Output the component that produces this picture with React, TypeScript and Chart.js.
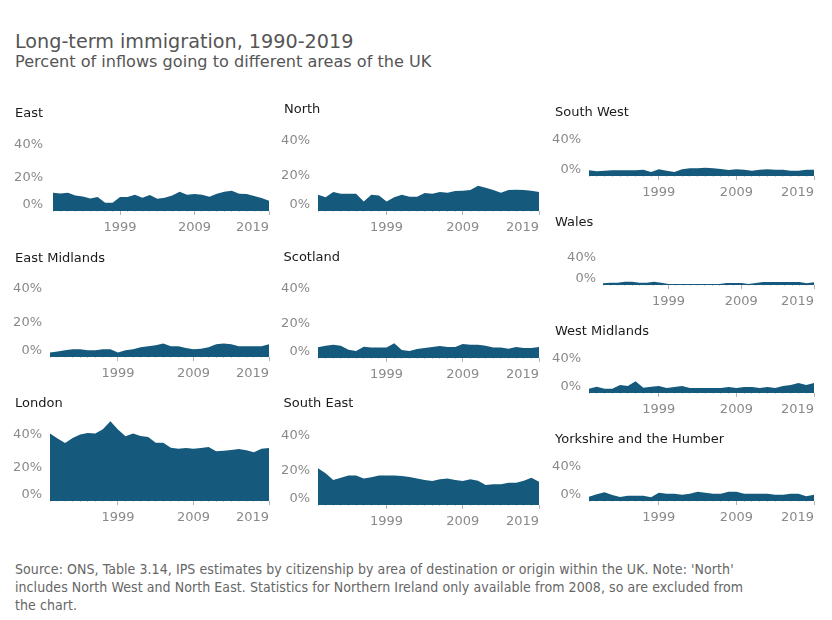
import React, { useEffect, useRef } from 'react';
import { Chart, registerables } from 'chart.js';

Chart.register(...registerables);

// ---------- data ----------
const years = ['1990', '1991', '1992', '1993', '1994', '1995', '1996', '1997', '1998', '1999', '2000', '2001', '2002', '2003', '2004', '2005', '2006', '2007', '2008', '2009', '2010', '2011', '2012', '2013', '2014', '2015', '2016', '2017', '2018', '2019'];
const labelledYears = ['1999', '2009', '2019'];
const ticksTall = [0, 20, 40];
const ticksShort = [0, 40];

const east = [11.0, 10.6, 11.0, 9.4, 8.8, 7.6, 8.4, 5.0, 5.0, 8.4, 8.4, 9.8, 8.0, 9.6, 7.4, 8.0, 9.4, 11.6, 9.8, 10.2, 9.8, 8.6, 10.4, 11.6, 12.2, 10.4, 10.2, 9.0, 7.8, 6.2];
const north = [9.3, 7.8, 10.9, 9.9, 9.9, 9.9, 5.5, 9.3, 8.8, 5.5, 7.8, 9.3, 8.2, 8.2, 10.3, 9.9, 10.9, 10.5, 11.4, 11.6, 12.0, 14.5, 13.3, 12.0, 10.5, 12.0, 12.2, 12.0, 11.6, 10.9];
const southWest = [6.3, 5.2, 5.9, 6.3, 6.3, 6.3, 6.3, 7.0, 4.4, 7.4, 5.9, 4.4, 7.4, 8.5, 8.5, 9.3, 8.5, 7.8, 6.7, 7.4, 7.0, 5.9, 7.0, 7.4, 7.0, 7.0, 5.9, 5.9, 7.0, 7.0];
const wales = [2.4, 3.4, 3.4, 4.8, 4.8, 3.4, 3.4, 4.8, 3.4, 1.4, 1.4, 1.4, 1.4, 1.4, 1.4, 1.4, 1.4, 2.9, 2.9, 2.9, 1.4, 2.9, 4.3, 4.3, 4.3, 4.3, 4.3, 4.3, 2.4, 3.9];
const eastMidlands = [2.7, 3.3, 3.9, 4.5, 4.5, 3.9, 3.9, 4.5, 4.5, 2.7, 3.9, 4.5, 5.7, 6.3, 6.9, 8.0, 6.3, 6.3, 5.3, 4.5, 4.9, 5.7, 7.5, 8.0, 7.5, 6.3, 6.3, 6.3, 6.3, 7.5];
const scotland = [6.2, 7.1, 7.7, 7.1, 4.8, 4.0, 6.5, 6.0, 6.0, 6.0, 8.5, 4.6, 4.0, 5.2, 5.8, 6.3, 6.9, 6.3, 6.3, 8.1, 7.7, 7.7, 7.1, 6.0, 6.0, 5.4, 6.3, 5.8, 5.8, 6.3];
const westMidlands = [5.0, 7.4, 5.0, 5.0, 9.3, 8.1, 13.6, 6.2, 7.4, 8.1, 5.8, 7.0, 8.1, 5.8, 5.8, 5.8, 5.8, 5.8, 7.0, 5.8, 7.0, 7.0, 5.8, 7.0, 5.8, 8.1, 9.3, 11.6, 9.3, 11.6];
const yorkshire = [5.0, 7.8, 10.1, 7.0, 4.7, 6.2, 6.2, 6.2, 4.3, 9.7, 8.5, 8.5, 7.4, 8.5, 10.9, 9.7, 8.5, 8.5, 10.9, 10.9, 8.5, 8.5, 8.5, 8.5, 7.4, 7.4, 8.5, 8.5, 5.4, 7.4];
const london = [40.6, 37.6, 34.9, 38.0, 40.0, 41.0, 40.6, 43.2, 48.0, 43.0, 39.0, 40.6, 39.2, 38.6, 35.1, 35.1, 32.1, 31.5, 31.9, 31.5, 31.9, 32.5, 29.9, 30.3, 30.7, 31.3, 30.5, 29.3, 31.5, 31.9];
const southEast = [21.1, 18.2, 14.4, 15.7, 16.9, 17.0, 15.3, 15.9, 16.9, 17.0, 17.0, 16.7, 16.1, 15.3, 14.4, 13.8, 14.8, 15.3, 14.4, 13.8, 14.8, 14.0, 11.5, 11.9, 11.9, 12.8, 12.8, 14.0, 15.7, 13.4];

const titleText = 'Long-term immigration, 1990-2019';
const subtitleText = 'Percent of inflows going to different areas of the UK';
const sourceLines = [
  "Source: ONS, Table 3.14, IPS estimates by citizenship by area of destination or origin within the UK. Note: 'North'",
  'includes North West and North East. Statistics for Northern Ireland only available from 2008, so are excluded from',
  'the chart.',
];

// ---------- styles / layout ----------
const FONT = '"DejaVu Sans", Verdana, sans-serif';
const FILL = '#155a7c';
const TICK_TEXT = '#8a8a8a';
const AXIS_W = 45;
const PAD_R = 8;
const PAD_T = 20;
const X_H = 30;

type PanelSpec = {
  name: string;
  values: number[];
  yTicks: number[];
  left: number;
  right: number;
  base: number;
  plotH: number;
  pxPerPct: number;
  labelGap: number;
  titleX: number;
  titleY: number;
};

const panels: PanelSpec[] = [
  { name: 'East', values: east, yTicks: ticksTall, left: 53, right: 269, base: 211, plotH: 90, pxPerPct: 1.66, labelGap: 10, titleX: 15, titleY: 112.7 },
  { name: 'East Midlands', values: eastMidlands, yTicks: ticksTall, left: 50, right: 269, base: 357, plotH: 90, pxPerPct: 1.7, labelGap: 8, titleX: 15, titleY: 257.7 },
  { name: 'London', values: london, yTicks: ticksTall, left: 50, right: 269, base: 501, plotH: 90, pxPerPct: 1.66, labelGap: 8, titleX: 15, titleY: 402.7 },
  { name: 'North', values: north, yTicks: ticksTall, left: 318, right: 539, base: 211, plotH: 90, pxPerPct: 1.75, labelGap: 8, titleX: 284, titleY: 108.5 },
  { name: 'Scotland', values: scotland, yTicks: ticksTall, left: 318, right: 539, base: 358, plotH: 90, pxPerPct: 1.733, labelGap: 8, titleX: 283.5, titleY: 256.7 },
  { name: 'South East', values: southEast, yTicks: ticksTall, left: 318, right: 539, base: 505, plotH: 90, pxPerPct: 1.74, labelGap: 8, titleX: 283.5, titleY: 403.3 },
  { name: 'South West', values: southWest, yTicks: ticksShort, left: 589, right: 814, base: 176, plotH: 50, pxPerPct: 0.9, labelGap: 8, titleX: 555, titleY: 112.3 },
  { name: 'Wales', values: wales, yTicks: ticksShort, left: 603, right: 814, base: 285, plotH: 50, pxPerPct: 0.69, labelGap: 7, titleX: 555, titleY: 221.7 },
  { name: 'West Midlands', values: westMidlands, yTicks: ticksShort, left: 589, right: 814, base: 393, plotH: 50, pxPerPct: 0.86, labelGap: 8, titleX: 555, titleY: 330.7 },
  { name: 'Yorkshire and the Humber', values: yorkshire, yTicks: ticksShort, left: 589, right: 814, base: 501, plotH: 50, pxPerPct: 0.86, labelGap: 8, titleX: 555, titleY: 439 },
];

function Panel({ spec }: { spec: PanelSpec }) {
  const ref = useRef<HTMLCanvasElement | null>(null);
  const width = spec.right - spec.left + AXIS_W + PAD_R;
  const height = PAD_T + spec.plotH + X_H;
  const canvasLeft = spec.left - AXIS_W;
  const canvasTop = spec.base - spec.plotH - PAD_T;

  useEffect(() => {
    if (!ref.current) return;
    const isMajor = (i: number) => labelledYears.includes(years[i]);
    const chart = new Chart(ref.current, {
      type: 'line',
      data: {
        labels: years,
        datasets: [
          {
            data: spec.values,
            fill: 'origin',
            backgroundColor: FILL,
            borderColor: 'rgba(0,0,0,0)',
            borderWidth: 0,
            pointRadius: 0,
            pointHoverRadius: 0,
            tension: 0,
          },
        ],
      },
      options: {
        animation: false,
        responsive: false,
        maintainAspectRatio: false,
        events: [],
        plugins: { legend: { display: false }, tooltip: { enabled: false } },
        layout: { padding: { top: PAD_T, right: PAD_R, left: 0, bottom: 0 } },
        scales: {
          x: {
            type: 'category',
            offset: false,
            border: { display: false },
            grid: {
              display: true,
              drawOnChartArea: false,
              drawTicks: true,
              tickLength: 4,
              tickWidth: 1,
              tickColor: (c: any) => (isMajor(c.index) ? '#b5b5b5' : '#d0d0d0'),
              tickBorderDash: (c: any) => (isMajor(c.index) ? [] : [1, 10]),
            },
            ticks: {
              autoSkip: false,
              maxRotation: 0,
              minRotation: 0,
              align: 'inner',
              padding: 5,
              color: TICK_TEXT,
              font: { family: FONT, size: 13 },
              callback: (_v: any, i: number) => (isMajor(i) ? years[i] : ''),
            },
            afterFit: (s: any) => {
              s.height = X_H;
            },
          },
          y: {
            min: 0,
            max: spec.plotH / spec.pxPerPct,
            border: { display: false },
            grid: { display: false, drawTicks: false },
            ticks: {
              padding: spec.labelGap,
              color: TICK_TEXT,
              font: { family: FONT, size: 13, lineHeight: 1 },
              callback: (v: any) => (Number(v) === 0 ? ['0%', ''] : `${v}%`),
            },
            afterBuildTicks: (s: any) => {
              s.ticks = spec.yTicks.map((v) => ({ value: v }));
            },
            afterFit: (s: any) => {
              s.width = AXIS_W;
            },
          },
        },
      } as any,
    });
    return () => chart.destroy();
  }, [spec]);

  return (
    <>
      <canvas
        ref={ref}
        width={width}
        height={height}
        style={{ position: 'absolute', left: canvasLeft, top: canvasTop, width, height }}
      />
      <div
        style={{
          position: 'absolute',
          left: spec.titleX,
          top: spec.titleY - 8,
          fontFamily: FONT,
          fontSize: 13,
          lineHeight: '16px',
          color: '#1a1a1a',
          whiteSpace: 'nowrap',
        }}
      >
        {spec.name}
      </div>
    </>
  );
}

export default function App() {
  return (
    <div
      style={{
        position: 'absolute',
        left: 0,
        top: 0,
        width: 832,
        height: 620,
        background: '#ffffff',
        overflow: 'hidden',
      }}
    >
      <div
        style={{
          position: 'absolute',
          left: 15,
          top: 30,
          fontFamily: FONT,
          fontSize: 19.2,
          lineHeight: '24px',
          color: '#555555',
          whiteSpace: 'nowrap',
        }}
      >
        {titleText}
      </div>
      <div
        style={{
          position: 'absolute',
          left: 15,
          top: 52,
          fontFamily: FONT,
          fontSize: 16.1,
          lineHeight: '20px',
          color: '#555555',
          whiteSpace: 'nowrap',
        }}
      >
        {subtitleText}
      </div>
      {panels.map((p) => (
        <Panel key={p.name} spec={p} />
      ))}
      <div
        style={{
          position: 'absolute',
          left: 15,
          top: 560,
          fontFamily: '"DejaVu Sans Condensed", "DejaVu Sans", sans-serif',
          fontSize: 14,
          letterSpacing: '0.07px',
          lineHeight: '18px',
          color: '#666666',
          whiteSpace: 'nowrap',
        }}
      >
        {sourceLines.map((l, i) => (
          <div key={i}>{l}</div>
        ))}
      </div>
    </div>
  );
}
